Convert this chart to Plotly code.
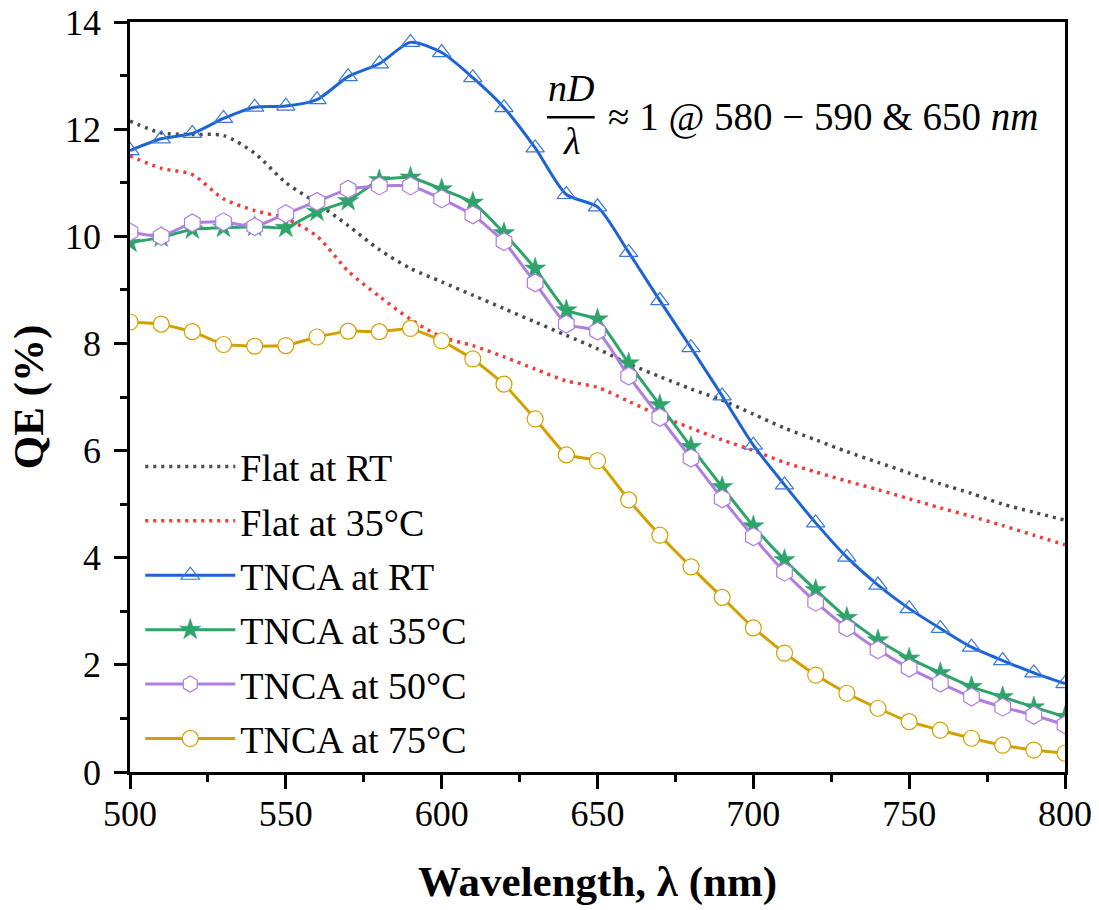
import plotly.graph_objects as go

wavelength = [500, 510, 520, 530, 540, 550, 560, 570, 580, 590, 600, 610, 620, 630, 640,
              650, 660, 670, 680, 690, 700, 710, 720, 730, 740, 750, 760, 770, 780, 790, 800]

flat_rt = [12.15, 11.93, 11.9, 11.88, 11.55, 11.0, 10.62, 10.2, 9.75, 9.4, 9.15, 8.9, 8.65, 8.4,
           8.15, 7.9, 7.62, 7.38, 7.15, 6.94, 6.68, 6.42, 6.2, 5.98, 5.78, 5.58, 5.38, 5.2, 5.0, 4.85, 4.7]
flat_35 = [11.5, 11.27, 11.15, 10.7, 10.48, 10.33, 10.0, 9.35, 8.88, 8.45, 8.12, 7.96, 7.75, 7.52,
           7.3, 7.18, 6.92, 6.65, 6.42, 6.2, 6.0, 5.78, 5.6, 5.43, 5.27, 5.1, 4.93, 4.77, 4.6, 4.42, 4.24]
tnca_rt = [11.6, 11.82, 11.92, 12.2, 12.41, 12.43, 12.55, 12.98, 13.22, 13.62, 13.43, 12.96, 12.4,
           11.65, 10.78, 10.55, 9.7, 8.8, 7.92, 7.02, 6.1, 5.36, 4.65, 4.01, 3.49, 3.05, 2.68, 2.33,
           2.08, 1.85, 1.65]
tnca_35 = [9.88, 9.98, 10.13, 10.16, 10.18, 10.16, 10.46, 10.66, 11.05, 11.1, 10.88, 10.63, 10.06,
           9.4, 8.62, 8.45, 7.63, 6.85, 6.07, 5.32, 4.59, 3.96, 3.4, 2.88, 2.46, 2.12, 1.85, 1.59,
           1.4, 1.21, 1.03]
tnca_50 = [10.08, 10.0, 10.25, 10.27, 10.18, 10.42, 10.65, 10.88, 10.94, 10.94, 10.7, 10.4, 9.9,
           9.13, 8.36, 8.23, 7.39, 6.62, 5.86, 5.1, 4.39, 3.73, 3.17, 2.69, 2.28, 1.94, 1.66, 1.4,
           1.21, 1.06, 0.88]
tnca_75 = [8.4, 8.36, 8.22, 7.98, 7.95, 7.96, 8.12, 8.23, 8.22, 8.28, 8.05, 7.71, 7.24, 6.59, 5.92,
           5.81, 5.08, 4.42, 3.83, 3.26, 2.69, 2.22, 1.81, 1.47, 1.19, 0.94, 0.78, 0.63, 0.5, 0.41, 0.35]

names = ["Flat at RT", "Flat at 35°C", "TNCA at RT", "TNCA at 35°C", "TNCA at 50°C", "TNCA at 75°C"]

SERIF = "Liberation Serif"

fig = go.Figure()

fig.add_trace(go.Scatter(x=wavelength, y=flat_rt, name=names[0], legendgroup="g0", mode="lines",
                         line=dict(color="#4a4a4a", width=3.5, dash="3px,5px", shape="spline", smoothing=0.8)))
fig.add_trace(go.Scatter(x=wavelength, y=flat_35, name=names[1], legendgroup="g1", mode="lines",
                         line=dict(color="#f23a3a", width=3.5, dash="3px,5px", shape="spline", smoothing=0.8)))
fig.add_trace(go.Scatter(x=wavelength, y=tnca_rt, name=names[2], legendgroup="g2", mode="lines+markers",
                         line=dict(color="#1c63d6", width=3, shape="spline", smoothing=0.7),
                         marker=dict(symbol="triangle-up", size=16, color="rgba(255,255,255,0)",
                                     line=dict(color="#3a78d8", width=1.2))))
fig.add_trace(go.Scatter(x=wavelength, y=tnca_35, name=names[3], legendgroup="g3", mode="lines+markers",
                         line=dict(color="#2ea36a", width=3, shape="spline", smoothing=0.4),
                         marker=dict(symbol="star", size=16, color="#2ea36a",
                                     line=dict(color="#2ea36a", width=0.5))))
fig.add_trace(go.Scatter(x=wavelength, y=tnca_50, name=names[4], legendgroup="g4", mode="lines+markers",
                         line=dict(color="#b07ee0", width=3, shape="spline", smoothing=0.4),
                         marker=dict(symbol="hexagon", size=18, color="white",
                                     line=dict(color="#b07ee0", width=1.2))))
fig.add_trace(go.Scatter(x=wavelength, y=tnca_75, name=names[5], legendgroup="g5", mode="lines+markers",
                         line=dict(color="#d4a000", width=3, shape="spline", smoothing=0.3),
                         marker=dict(symbol="circle", size=16, color="white",
                                     line=dict(color="#d4a000", width=1.2))))

axis_common = dict(showgrid=False, zeroline=False, linecolor="black", linewidth=2.5,
                   tickcolor="black", tickwidth=2.5, automargin=False)

fig.update_layout(
    width=1099, height=910,
    margin=dict(l=130, r=34, t=22, b=138),
    paper_bgcolor="white", plot_bgcolor="white",
    font=dict(family=SERIF, color="black"),
    xaxis=dict(range=[500, 800], dtick=50, tick0=500, ticks="outside", ticklen=14,
               showline=True, mirror=True,
               minor=dict(ticks="outside", ticklen=7, dtick=25, tickcolor="black", tickwidth=2.5),
               tickfont=dict(family=SERIF, size=36), ticklabelstandoff=-6, ticklabeloverflow="allow",
               title=dict(text="<b>Wavelength, λ (nm)</b>", font=dict(family=SERIF, size=43), standoff=33),
               **axis_common),
    yaxis=dict(range=[0, 14], dtick=2, tick0=0, ticks="outside", ticklen=13,
               showline=True, mirror=True,
               minor=dict(ticks="outside", ticklen=7, dtick=1, tickcolor="black", tickwidth=2.5),
               tickfont=dict(family=SERIF, size=36), ticklabelstandoff=6, ticklabeloverflow="allow",
               title=dict(text="<b>QE (%)</b>", font=dict(family=SERIF, size=43), standoff=8),
               **axis_common),
    xaxis2=dict(range=[500, 800], overlaying="x", anchor="y", side="top", dtick=50, tick0=500,
                ticks="inside", ticklen=14, showticklabels=False, showline=True,
                linecolor="black", linewidth=2.5,
                minor=dict(ticks="inside", ticklen=7, dtick=25, tickcolor="black", tickwidth=2.5),
                showgrid=False, zeroline=False, tickcolor="black", tickwidth=2.5, automargin=False),
    yaxis2=dict(range=[0, 14], overlaying="y", anchor="x", side="right", dtick=2, tick0=0,
                ticks="inside", ticklen=14, showticklabels=False, showline=True,
                linecolor="black", linewidth=2.5,
                minor=dict(ticks="inside", ticklen=7, dtick=1, tickcolor="black", tickwidth=2.5),
                showgrid=False, zeroline=False, tickcolor="black", tickwidth=2.5, automargin=False),
    legend=dict(x=0.011, y=0.449, xanchor="left", yanchor="top", bgcolor="rgba(0,0,0,0)",
                font=dict(family=SERIF, size=38), itemwidth=90, tracegroupgap=2),
    showlegend=True,
)

# nD/λ annotation (fraction built from pieces)
fig.add_annotation(xref="paper", yref="paper", x=0.4717, y=0.912, text="<i>nD</i>",
                   showarrow=False, xanchor="center", yanchor="middle",
                   font=dict(family=SERIF, size=38))
fig.add_annotation(xref="paper", yref="paper", x=0.4717, y=0.841, text="<i>λ</i>",
                   showarrow=False, xanchor="center", yanchor="middle",
                   font=dict(family=SERIF, size=38))
fig.add_shape(type="line", xref="paper", yref="paper", x0=0.446, x1=0.497, y0=0.873, y1=0.873,
              line=dict(color="black", width=2.5))
fig.add_annotation(xref="paper", yref="paper", x=0.509, y=0.873,
                   text="≈ 1 @ 580 − 590 &amp; 650 <i>nm</i>",
                   showarrow=False, xanchor="left", yanchor="middle",
                   font=dict(family=SERIF, size=39))

fig.write_html("out.html", config={"displayModeBar": False},
               post_script="document.body.style.margin='0';")
